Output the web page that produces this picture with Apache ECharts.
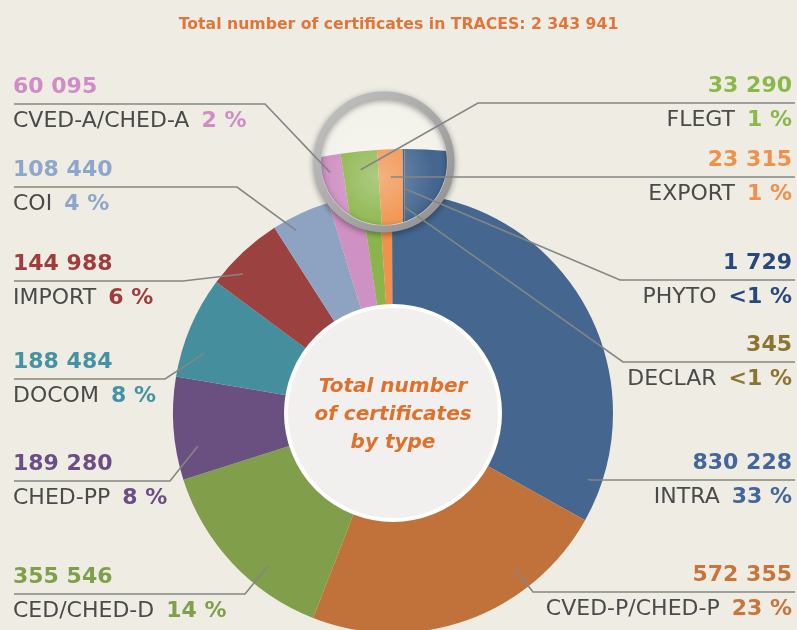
<!DOCTYPE html>
<html>
<head>
<meta charset="utf-8">
<script src="https://cdn.jsdelivr.net/npm/echarts@6/dist/echarts.min.js"></script>
<style>
html,body{margin:0;padding:0;background:#eeece3;}
#main{width:797px;height:630px;}
</style>
</head>
<body>
<div id="main"></div>
<script>
const categories = ['INTRA', 'CVED-P/CHED-P', 'CED/CHED-D', 'CHED-PP', 'DOCOM', 'IMPORT', 'COI', 'CVED-A/CHED-A', 'FLEGT', 'EXPORT', 'PHYTO', 'DECLAR'];
const counts = [830228, 572355, 355546, 189280, 188484, 144988, 108440, 60095, 33290, 23315, 1729, 345];
const shares = ['33 %', '23 %', '14 %', '8 %', '8 %', '6 %', '4 %', '2 %', '1 %', '1 %', '<1 %', '<1 %'];
const totalCount = 2343941;

const colors = ['#44668f', '#c0723a', '#819e4b', '#6a5080', '#458e9e', '#9b4140', '#8ea3c2', '#cf90c3', '#8bb54c', '#f0924d', '#2f4f86', '#8c7431'];
const textColors = ['#44679b', '#c8743a', '#7f9f4a', '#6b4e86', '#4592a3', '#a03c3c', '#8fa6cc', '#d08cc4', '#8ab84a', '#f0904a', '#28477f', '#8c7431'];

// label spots: side, y of the rule under the number, x of the elbow, anchor radius (share of outer radius)
const spots = [
    {side: 'r', y: 480, ex: 590, ar: 0.935},
    {side: 'r', y: 592, ex: 533},
    {side: 'l', y: 594, ex: 245},
    {side: 'l', y: 481, ex: 170},
    {side: 'l', y: 379, ex: 165},
    {side: 'l', y: 281, ex: 183, ar: 0.93},
    {side: 'l', y: 187, ex: 237, ar: 0.94},
    {side: 'l', y: 104, ex: 265, ar: 0.962, lens: true},
    {side: 'r', y: 103, ex: 478, ar: 0.958, lens: true},
    {side: 'r', y: 177, ex: 420, ar: 0.937, lens: true},
    {side: 'r', y: 280, ex: 620, ar: 0.911, lens: true},
    {side: 'r', y: 362, ex: 623, ar: 0.868, lens: true}
];

const cx = 393, cy = 413, rIn = 108, rOut = 220;
const lens = {x: 384, y: 162, r: 63, fx: 382.5, fy: 199.5, k: 2};
const font = 'DejaVu Sans';

const sum = counts.reduce((a, b) => a + b, 0);
let acc = 0;
const arcs = counts.map(v => {
    const a0 = acc / sum * 360;
    acc += v;
    return [a0, acc / sum * 360];
});

function fmt(n) {
    return String(n).replace(/\B(?=(\d{3})+(?!\d))/g, ' ');
}

function polar(r, deg) {
    const t = deg * Math.PI / 180;
    return [cx + r * Math.sin(t), cy - r * Math.cos(t)];
}

function anchorOf(i) {
    const s = spots[i], a = arcs[i], r = rOut * (s.ar || 0.9);
    if (s.lens) {
        const deg = Math.max((a[0] + a[1]) / 2, 349.8);
        const p = polar(r, deg);
        return [lens.x + lens.k * (p[0] - lens.fx), lens.y + lens.k * (p[1] - lens.fy)];
    }
    let e = Math.atan2(s.ex - cx, cy - s.y) * 180 / Math.PI;
    if (e < 0) e += 360;
    const m = Math.min(0.3 * (a[1] - a[0]), 8);
    e = Math.min(Math.max(e, a[0] + m), a[1] - m);
    return polar(r, e);
}

const rich = {n: {fontSize: 22, color: '#4a4a4a', fontFamily: font, lineHeight: 34}};
categories.forEach((c, i) => {
    rich['v' + i] = {fontSize: 22, fontWeight: 'bold', color: textColors[i], fontFamily: font, lineHeight: 34};
    rich['p' + i] = {fontSize: 22, fontWeight: 'bold', color: textColors[i], fontFamily: font, lineHeight: 34, padding: [0, 0, 0, 12]};
});

const pieData = categories.map((c, i) => ({name: c, value: counts[i], itemStyle: {color: colors[i]}}));

const option = {
    backgroundColor: '#eeece3',
    animation: false,
    title: {
        text: '{a|Total number of certificates in TRACES: }{b|' + fmt(totalCount) + '}',
        left: 'center',
        top: 12,
        textStyle: {
            rich: {
                a: {fontSize: 15.7, color: '#e0763a', fontFamily: font},
                b: {fontSize: 15.7, color: '#e0763a', fontFamily: font, fontWeight: 'bold'}
            }
        }
    },
    graphic: [
        {type: 'circle', z: 3, shape: {cx: cx, cy: cy, r: rIn - 1}, style: {fill: '#f1f0ee', stroke: '#ffffff', lineWidth: 4}},
        {type: 'text', z: 3, x: cx, y: cy + 2, style: {
            text: 'Total number\nof certificates\nby type', fontFamily: font, fontSize: 20, fontWeight: 'bold', fontStyle: 'italic',
            fill: '#e0702c', align: 'center', verticalAlign: 'middle', textAlign: 'center', textVerticalAlign: 'middle', lineHeight: 28}},
        {type: 'circle', z: 4, shape: {cx: lens.x, cy: lens.y, r: lens.r + 2}, style: {fill: '#f3f2eb'}},
        {type: 'circle', z: 6, silent: true, shape: {cx: lens.x, cy: lens.y, r: lens.r}, style: {
            fill: {type: 'radial', x: 0.45, y: 0.62, r: 0.45, colorStops: [
                {offset: 0, color: 'rgba(255,255,255,0.3)'}, {offset: 1, color: 'rgba(255,255,255,0)'}]}}},
        {type: 'circle', z: 6, silent: true, shape: {cx: lens.x, cy: lens.y, r: lens.r + 4}, style: {
            fill: 'none', lineWidth: 7,
            stroke: {type: 'linear', x: 0, y: 0, x2: 1, y2: 1, colorStops: [
                {offset: 0, color: '#c4c4c4'}, {offset: 1, color: '#8e8e8e'}]},
            shadowBlur: 6, shadowColor: 'rgba(0,0,0,0.4)', shadowOffsetY: 2}}
    ],
    series: [
        {
            type: 'pie',
            z: 2,
            center: [cx, cy],
            radius: [rIn, rOut],
            startAngle: 90,
            silent: true,
            label: {show: false},
            labelLine: {show: false},
            data: pieData
        },
        {
            type: 'custom',
            z: 5,
            coordinateSystem: 'none',
            silent: true,
            data: counts,
            renderItem: function (params) {
                const i = params.dataIndex, a = arcs[i];
                return {
                    type: 'sector',
                    shape: {
                        cx: lens.x + lens.k * (cx - lens.fx),
                        cy: lens.y + lens.k * (cy - lens.fy),
                        r0: rIn * lens.k,
                        r: rOut * lens.k,
                        startAngle: (a[0] - 90) * Math.PI / 180,
                        endAngle: (a[1] - 90) * Math.PI / 180,
                        clockwise: true
                    },
                    style: {fill: colors[i]},
                    clipPath: {type: 'circle', shape: {cx: lens.x, cy: lens.y, r: lens.r}}
                };
            }
        },
        {
            type: 'pie',
            z: 7,
            center: [cx, cy],
            radius: [rIn, rOut],
            startAngle: 90,
            silent: true,
            avoidLabelOverlap: false,
            itemStyle: {color: 'rgba(0,0,0,0)'},
            label: {
                show: true,
                position: 'outside',
                formatter: p => '{v' + p.dataIndex + '|' + fmt(p.value) + '}\n{n|' + p.name + '}{p' + p.dataIndex + '|' + shares[p.dataIndex] + '}',
                rich: rich
            },
            labelLine: {show: true, smooth: false, lineStyle: {color: '#858585', width: 1.6}},
            labelLayout: function (params) {
                const i = params.dataIndex, s = spots[i];
                const left = s.side === 'l';
                const edge = left ? 14 : 795;
                return {
                    x: left ? 13 : 792,
                    y: s.y,
                    align: left ? 'left' : 'right',
                    verticalAlign: 'middle',
                    labelLinePoints: [anchorOf(i), [s.ex, s.y], [edge, s.y]]
                };
            },
            data: categories.map((c, i) => ({name: c, value: counts[i]}))
        }
    ]
};

let myChart = echarts.init(document.getElementById('main'));
myChart.setOption(option);
</script>
</body>
</html>
